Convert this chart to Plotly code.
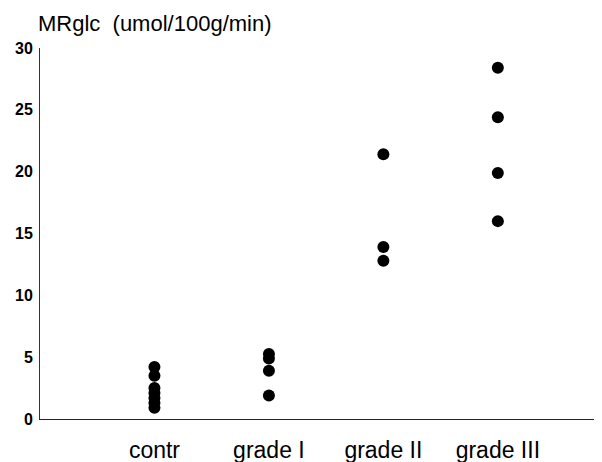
import plotly.graph_objects as go

categories = ["contr", "grade I", "grade II", "grade III"]
contr = [4.2, 3.5, 2.5, 2.1, 1.7, 1.3, 0.9]
grade_1 = [5.25, 4.9, 3.9, 1.9]
grade_2 = [21.4, 13.9, 12.8]
grade_3 = [28.4, 24.4, 19.9, 16.0]
groups = [contr, grade_1, grade_2, grade_3]
y_ticks = [0, 5, 10, 15, 20, 25, 30]

xs, ys = [], []
for i, vals in enumerate(groups):
    xs += [i] * len(vals)
    ys += vals

fig = go.Figure(go.Scatter(x=xs, y=ys, mode="markers", cliponaxis=False,
                           marker=dict(color="black", size=12, line=dict(width=0))))

fig.update_layout(
    width=602, height=462,
    margin=dict(l=32, r=8, t=40, b=51, autoexpand=False),
    paper_bgcolor="white", plot_bgcolor="white",
    showlegend=False,
    font=dict(family="Liberation Sans, Arial, sans-serif", color="black"),
    xaxis=dict(range=[-1.0, 3.91], tickvals=list(range(len(categories))),
               ticktext=categories, showgrid=False, zeroline=False,
               showline=True, linecolor="#222", linewidth=1, ticks="",
               tickfont=dict(size=23), ticklabelstandoff=10, automargin=False),
    yaxis=dict(range=[0, 30], tickvals=y_ticks, showgrid=False, zeroline=False,
               showline=True, linecolor="#333", linewidth=1, ticks="",
               tickfont=dict(size=16, weight="bold"), ticklabelstandoff=3,
               automargin=False),
    annotations=[dict(text="MRglc  (umol/100g/min)", xref="paper", yref="paper",
                      x=0, y=1, xanchor="left", yanchor="bottom", yshift=10,
                      xshift=-4, showarrow=False, font=dict(size=22))],
)

fig.write_html("out.html")
